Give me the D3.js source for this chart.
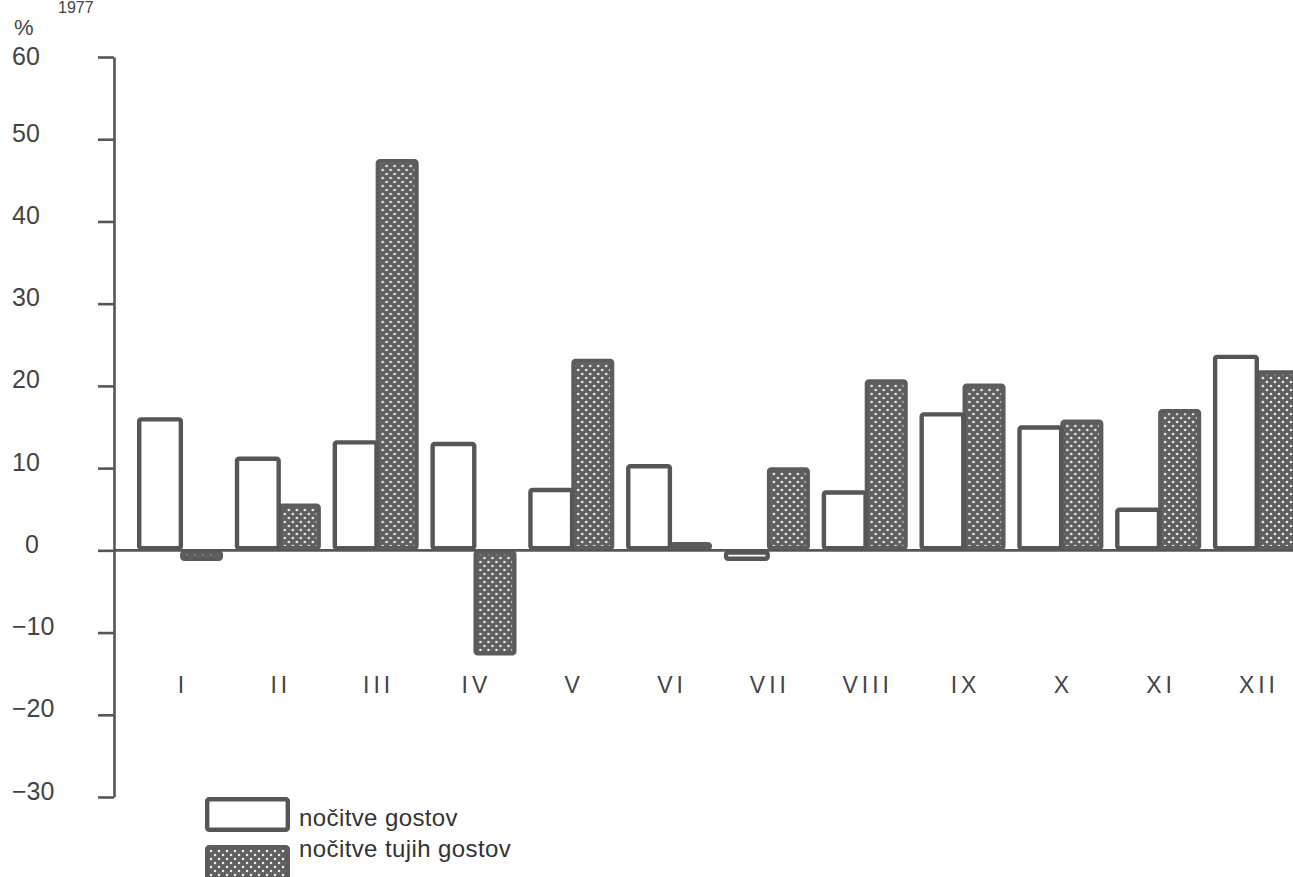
<!DOCTYPE html>
<html>
<head>
<meta charset="utf-8">
<script src="https://cdn.jsdelivr.net/npm/d3@7"></script>
<style>
  html, body { margin: 0; padding: 0; background: #ffffff; }
  svg { display: block; }
</style>
</head>
<body>
<svg id="chart" width="1293" height="877"></svg>
<script>
// ---- data ----
const months = ["I","II","III","IV","V","VI","VII","VIII","IX","X","XI","XII"];
const seriesNames = ["nočitve gostov", "nočitve tujih gostov"];
const gostov = [16.2, 11.4, 13.4, 13.2, 7.6, 10.5, -1.3, 7.3, 16.8, 15.2, 5.2, 23.8];
const tujihGostov = [-1.3, 5.7, 47.6, -12.8, 23.3, 1.0, 10.1, 20.8, 20.3, 15.9, 17.2, 21.9];
const yTicks = [60, 50, 40, 30, 20, 10, 0, -10, -20, -30];
const unitLabel = "%";
const topNote = "1977";

// ---- setup ----
const svg = d3.select("#chart");
const W = 1293, H = 877;
const ink = "#565656";
const textInk = "#444444";
const font = "'Liberation Sans', Arial, Helvetica, sans-serif";

const defs = svg.append("defs");
const pat = defs.append("pattern")
  .attr("id", "dots").attr("patternUnits", "userSpaceOnUse")
  .attr("width", 8).attr("height", 8);
pat.append("rect").attr("width", 8).attr("height", 8).attr("fill", "#5f5f5f");
pat.append("circle").attr("cx", 2).attr("cy", 2).attr("r", 1.3).attr("fill", "#ececec");
pat.append("circle").attr("cx", 6).attr("cy", 6).attr("r", 1.3).attr("fill", "#ececec");

const y = d3.scaleLinear().domain([-30, 60]).range([797, 57]);
const x = d3.scaleBand().domain(months).range([137, 1299]).paddingInner(0.12).paddingOuter(0);
const xs = d3.scaleBand().domain(["g", "t"]).range([0, x.bandwidth()]);

const rows = months.map((m, i) => ({ m, g: gostov[i], t: tujihGostov[i] }));

// ---- top note (cropped in original) ----
svg.append("text").attr("x", 58).attr("y", 13)
  .attr("font-family", font).attr("font-size", 16).attr("fill", textInk)
  .text(topNote);

svg.append("text").attr("x", 14).attr("y", 35)
  .attr("font-family", font).attr("font-size", 22).attr("fill", textInk)
  .text(unitLabel);

// ---- y axis ----
const axisX = 114;
const yAxis = d3.axisLeft(y).tickValues(yTicks).tickSize(16).tickSizeOuter(0)
  .tickFormat(d => d < 0 ? "\u2212" + Math.abs(d) : String(d));
const gAxis = svg.append("g").attr("transform", `translate(${axisX},0)`).call(yAxis);
gAxis.select(".domain").attr("stroke", ink).attr("stroke-width", 2.6);
gAxis.selectAll(".tick line").attr("stroke", ink).attr("stroke-width", 2.6);
gAxis.selectAll(".tick text")
  .attr("font-family", font).attr("font-size", 25).attr("fill", textInk)
  .attr("text-anchor", "start")
  .attr("x", d => (d === 0 ? 25 : 12) - axisX)
  .attr("dy", d => d === 60 ? "0.3em" : "0.08em");

// ---- bars ----
const sw = 4.4;
const groups = svg.append("g").selectAll("g").data(rows).join("g")
  .attr("transform", d => `translate(${x(d.m)},0)`);

// foreign (dark, dotted) bars
groups.append("rect")
  .attr("x", xs("t") + sw / 2)
  .attr("y", d => Math.min(y(d.t), y(0)) + sw / 2)
  .attr("width", xs.bandwidth() - sw)
  .attr("height", d => Math.max(0.5, Math.abs(y(d.t) - y(0)) - sw))
  .attr("rx", 2)
  .attr("fill", "url(#dots)")
  .attr("stroke", "#5c5c5c").attr("stroke-width", sw);

// all guests (white outlined) bars
groups.append("rect")
  .attr("x", xs("g") + sw / 2)
  .attr("y", d => Math.min(y(d.g), y(0)) + sw / 2)
  .attr("width", xs.bandwidth() - sw + 3)
  .attr("height", d => Math.max(0.5, Math.abs(y(d.g) - y(0)) - sw))
  .attr("rx", 2)
  .attr("fill", "#ffffff")
  .attr("stroke", ink).attr("stroke-width", sw);

// zero line
svg.append("line")
  .attr("x1", axisX).attr("x2", W)
  .attr("y1", y(0)).attr("y2", y(0))
  .attr("stroke", ink).attr("stroke-width", 2.6);

// month labels
svg.append("g").selectAll("text").data(months).join("text")
  .attr("x", m => x(m) + x.bandwidth() / 2 + 3)
  .attr("y", 693)
  .attr("text-anchor", "middle")
  .attr("font-family", font).attr("font-size", 23).attr("fill", textInk)
  .attr("letter-spacing", "4px")
  .text(m => m);

// ---- legend ----
const lg = svg.append("g").attr("transform", "translate(205,797)");
lg.append("rect").attr("x", sw / 2).attr("y", sw / 2).attr("width", 85 - sw).attr("height", 35 - sw)
  .attr("rx", 2).attr("fill", "#ffffff").attr("stroke", ink).attr("stroke-width", sw);
lg.append("rect").attr("x", sw / 2).attr("y", 48 + sw / 2).attr("width", 85 - sw).attr("height", 40)
  .attr("rx", 2).attr("fill", "url(#dots)").attr("stroke", "#5c5c5c").attr("stroke-width", sw);
lg.selectAll("text.lab").data(seriesNames).join("text")
  .attr("class", "lab")
  .attr("x", 94)
  .attr("y", (d, i) => 29 + i * 31)
  .attr("font-family", font).attr("font-size", 24).attr("fill", "#333333")
  .attr("letter-spacing", "0.4px")
  .text(d => d);
</script>
</body>
</html>
